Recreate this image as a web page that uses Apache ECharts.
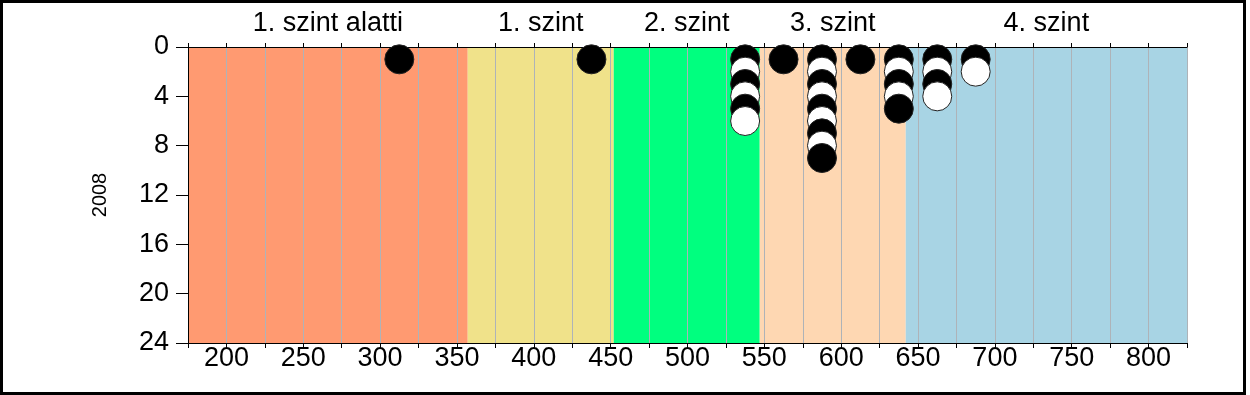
<!DOCTYPE html>
<html>
<head>
<meta charset="utf-8">
<script src="https://cdn.jsdelivr.net/npm/echarts@6/dist/echarts.min.js"></script>
<style>
html,body{margin:0;padding:0;background:#fff;}
#chart{width:1250px;height:395px;}
</style>
</head>
<body>
<div id="chart"></div>
<script>
// ---- data ----
const bandNames = ['1. szint alatti', '1. szint', '2. szint', '3. szint', '4. szint'];
const bandLimits = [175, 357, 452, 547, 642, 825];
const binCenters = [312.5, 437.5, 537.5, 562.5, 587.5, 612.5, 637.5, 662.5, 687.5];
const binCounts = [1, 1, 6, 1, 9, 1, 5, 4, 2];
const yTicks = [0, 4, 8, 12, 16, 20, 24];
const yearLabel = '2008';

// ---- styles ----
const bandColors = ['#FF9A71', '#F0E28A', '#00FF7F', '#FED7B2', '#A8D4E4'];
const FONT = '"Liberation Sans", Arial, sans-serif';

const bandData = bandNames.map((n, i) => [bandLimits[i], bandLimits[i + 1], 0, i]);

// stacked dot plot points: each dot is one item, drawn top to bottom
const dots = [];
binCenters.forEach((x, i) => {
  for (let k = 1; k <= binCounts[i]; k++) {
    dots.push({
      value: [x, k],
      itemStyle: { color: k % 2 === 1 ? '#000000' : '#ffffff' }
    });
  }
});

const chart = echarts.init(document.getElementById('chart'), null, { renderer: 'canvas' });

chart.setOption({
  animation: false,
  backgroundColor: '#ffffff',
  textStyle: { fontFamily: FONT },
  graphic: [{
    type: 'rect',
    shape: { x: 1.5, y: 1.5, width: 1243, height: 392 },
    style: { fill: 'none', stroke: '#000', lineWidth: 3 },
    z: 100, silent: true
  }],
  grid: { left: 188, top: 47, width: 999, height: 296, containLabel: false },
  xAxis: [{
    type: 'value', position: 'bottom', min: 175, max: 825, interval: 25, z: 3,
    axisLine: { show: true, onZero: false, lineStyle: { color: '#000', width: 1 } },
    axisTick: { show: true, length: 5, lineStyle: { color: '#000' } },
    axisLabel: {
      margin: 2, color: '#000', fontSize: 27, fontFamily: FONT,
      formatter: v => (v % 50 === 0 ? String(v) : '')
    },
    splitLine: { show: true, lineStyle: { color: '#AEB3B8', width: 1 } }
  }, {
    type: 'value', position: 'top', min: 175, max: 825, interval: 25, z: 3,
    axisLine: { show: true, onZero: false, lineStyle: { color: '#000', width: 1 } },
    axisTick: { show: true, length: 4, lineStyle: { color: '#000' } },
    axisLabel: { show: false },
    splitLine: { show: false }
  }],
  yAxis: {
    type: 'value', inverse: true, min: 0, max: 24, interval: 4, z: 3,
    name: yearLabel, nameLocation: 'middle', nameRotate: 90, nameGap: 78,
    nameTextStyle: { fontSize: 20, color: '#000', fontFamily: FONT },
    axisLine: { show: true, onZero: false, lineStyle: { color: '#000', width: 1 } },
    axisTick: { show: true, length: 12, lineStyle: { color: '#000' } },
    axisLabel: { margin: 19, color: '#000', fontSize: 27, fontFamily: FONT,
      formatter: v => (yTicks.indexOf(v) >= 0 ? String(v) : '') },
    splitLine: { show: false }
  },
  series: [{
    type: 'custom',
    z: 1,
    clip: false,
    encode: { x: [0, 1], y: 2 },
    data: bandData,
    renderItem: function (params, api) {
      const p0 = api.coord([api.value(0), 0]);
      const p1 = api.coord([api.value(1), 24]);
      const idx = api.value(3);
      return {
        type: 'group',
        children: [{
          type: 'rect',
          shape: { x: p0[0], y: p0[1], width: p1[0] - p0[0], height: p1[1] - p0[1] },
          style: { fill: bandColors[idx] }
        }, {
          type: 'text',
          style: {
            text: bandNames[idx],
            x: (p0[0] + p1[0]) / 2,
            y: p0[1] - 10,
            align: 'center',
            verticalAlign: 'bottom',
            fill: '#000',
            font: '27px ' + FONT
          }
        }]
      };
    }
  }, {
    type: 'scatter',
    z: 5,
    symbol: 'circle',
    symbolSize: 29,
    itemStyle: { borderColor: '#222', borderWidth: 1, opacity: 1 },
    emphasis: { disabled: true },
    data: dots
  }]
});
</script>
</body>
</html>
